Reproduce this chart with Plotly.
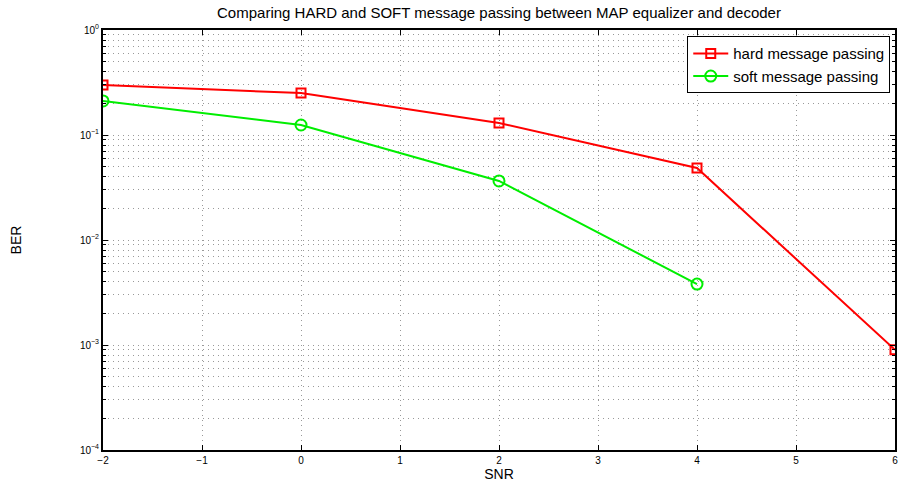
import plotly.graph_objects as go

snr_hard = [-2, 0, 2, 4, 6]
ber_hard = [0.299, 0.251, 0.130, 0.0485, 0.0009]
snr_soft = [-2, 0, 2, 4]
ber_soft = [0.211, 0.1245, 0.0365, 0.0038]

x_ticks = [-2, -1, 0, 1, 2, 3, 4, 5, 6]
y_ticks = [1e-4, 1e-3, 1e-2, 1e-1, 1e0]
y_tick_text = ["10<sup>−4</sup>", "10<sup>−3</sup>", "10<sup>−2</sup>", "10<sup>−1</sup>", "10<sup>0</sup>"]

font = "Liberation Sans, Arial, sans-serif"

fig = go.Figure()
fig.add_trace(go.Scatter(
    x=snr_hard, y=ber_hard, mode="lines+markers", name="hard message passing",
    line=dict(color="#ff0000", width=2),
    marker=dict(symbol="square-open", size=9, color="#ff0000", line=dict(width=2)),
))
fig.add_trace(go.Scatter(
    x=snr_soft, y=ber_soft, mode="lines+markers", name="soft message passing",
    line=dict(color="#00ee00", width=2),
    marker=dict(symbol="circle-open", size=11, color="#00ee00", line=dict(width=2)),
))

grid = dict(showgrid=True, gridcolor="#999999", griddash="1px,4px", gridwidth=1)

fig.update_layout(
    width=900, height=487,
    margin=dict(l=103, r=3, t=30, b=37),
    paper_bgcolor="white", plot_bgcolor="white",
    font=dict(family=font, color="black"),
    title=dict(text="Comparing HARD and SOFT message passing between MAP equalizer and decoder",
               x=0.5, xanchor="center", xref="paper", y=1 - 13 / 487, yanchor="middle",
               font=dict(size=15)),
    showlegend=True,
    legend=dict(x=0.994, y=0.985, xanchor="right", yanchor="top",
                bgcolor="white", bordercolor="black", borderwidth=1,
                font=dict(size=15), tracegroupgap=0, itemwidth=35),
    xaxis=dict(
        range=[-2, 6], tickvals=x_ticks, ticks="inside", ticklen=5, tickcolor="black",
        showline=True, linecolor="black", linewidth=2, mirror="ticks",
        tickfont=dict(size=10), zeroline=False,
        title=dict(text="SNR", font=dict(size=14), standoff=2),
        **grid,
    ),
    yaxis=dict(
        type="log", range=[-4, 0], tickvals=y_ticks, ticktext=y_tick_text,
        ticks="inside", ticklen=5, tickcolor="black",
        showline=True, linecolor="black", linewidth=2, mirror="ticks",
        tickfont=dict(size=10), zeroline=False,
        title=dict(text="BER", font=dict(size=14), standoff=55),
        minor=dict(dtick="D1", ticks="inside", ticklen=3, tickcolor="black",
                   showgrid=True, gridcolor="#999999", griddash="1px,4px", gridwidth=1),
        **grid,
    ),
)

fig.write_html("out.html")
